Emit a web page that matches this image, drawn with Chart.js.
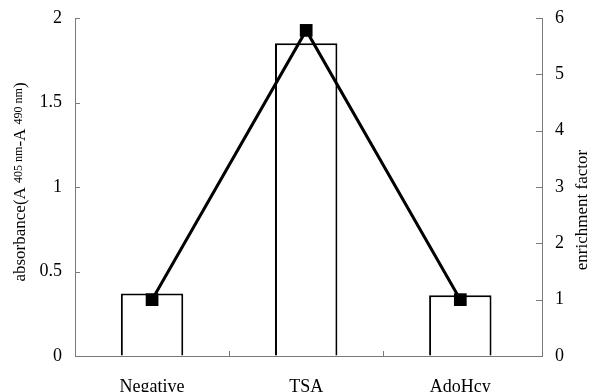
<!DOCTYPE html>
<html lang="en">
<head>
<meta charset="UTF-8">
<title>absorbance / enrichment</title>
<script src="https://cdn.jsdelivr.net/npm/chart.js"></script>
<style>
  html, body { margin: 0; padding: 0; background: #fff; }
  #wrap { width: 589px; height: 392px; }
</style>
</head>
<body>
<div id="wrap"><canvas id="chart" width="589" height="392"></canvas></div>
<script>
// data
const categories = ['Negative', 'TSA', 'AdoHcy'];
const absorbance = [0.37, 1.85, 0.36];
const enrichment = [1.0, 5.78, 1.0];
const leftTicks = [0, 0.5, 1, 1.5, 2];
const rightTicks = [0, 1, 2, 3, 4, 5, 6];

const serif = "'Liberation Serif', 'DejaVu Serif', serif";
const axisGray = '#7a7a7a';
const catIndex = categories.map((c, i) => i);

// titles with subscripts, inward tick marks
const extras = {
  id: 'extras',
  afterDraw(chart) {
    const ctx = chart.ctx;
    const area = chart.chartArea;
    const x = chart.scales.x, y = chart.scales.y, y1 = chart.scales.y1;

    ctx.save();
    ctx.strokeStyle = axisGray;
    ctx.lineWidth = 1;
    // category boundaries on the x axis
    for (let i = 0; i < categories.length - 1; i++) {
      const px = Math.round(x.getPixelForValue(i + 0.5)) + 0.5;
      ctx.beginPath();
      ctx.moveTo(px, area.bottom);
      ctx.lineTo(px, area.bottom - 5);
      ctx.stroke();
    }
    // left axis ticks point inward
    leftTicks.forEach(v => {
      const py = Math.round(y.getPixelForValue(v)) + 0.5;
      ctx.beginPath();
      ctx.moveTo(area.left, py);
      ctx.lineTo(area.left + 5, py);
      ctx.stroke();
    });
    // right axis ticks point inward
    rightTicks.forEach(v => {
      const py = Math.round(y1.getPixelForValue(v)) + 0.5;
      ctx.beginPath();
      ctx.moveTo(area.right, py);
      ctx.lineTo(area.right - 6, py);
      ctx.stroke();
    });
    ctx.restore();

    // left title: absorbance(A 405 nm-A 490 nm)
    const parts = [
      ['absorbance(A ', 17, 0],
      ['405 nm', 12, -3],
      ['-A ', 17, 0],
      ['490 nm', 12, -3],
      [')', 17, 0]
    ];
    ctx.save();
    ctx.fillStyle = '#000';
    let total = 0;
    parts.forEach(p => { ctx.font = p[1] + 'px ' + serif; total += ctx.measureText(p[0]).width; });
    ctx.translate(25, 182);
    ctx.rotate(-Math.PI / 2);
    ctx.textBaseline = 'alphabetic';
    let cx = -total / 2;
    parts.forEach(p => {
      ctx.font = p[1] + 'px ' + serif;
      ctx.fillText(p[0], cx, p[2]);
      cx += ctx.measureText(p[0]).width;
    });
    ctx.restore();

    // right title
    ctx.save();
    ctx.fillStyle = '#000';
    ctx.font = '17px ' + serif;
    ctx.translate(583, 210);
    ctx.rotate(-Math.PI / 2);
    ctx.textAlign = 'center';
    ctx.textBaseline = 'middle';
    ctx.fillText('enrichment factor', 0, 0);
    ctx.restore();
  }
};

const tickFont = { family: serif, size: 18 };

function fixV(w) {
  return s => { s.width = w; s.paddingTop = 0; s.paddingBottom = 0; };
}

new Chart(document.getElementById('chart'), {
  data: {
    datasets: [
      {
        type: 'line',
        label: 'enrichment factor',
        data: catIndex.map(i => ({ x: i, y: enrichment[i] })),
        yAxisID: 'y1',
        borderColor: '#000',
        backgroundColor: '#000',
        borderWidth: 3,
        tension: 0,
        pointStyle: 'rect',
        pointRadius: 9,
        pointBorderWidth: 0,
        order: 0
      },
      {
        type: 'bar',
        label: 'absorbance',
        data: catIndex.map(i => ({ x: i, y: absorbance[i] })),
        yAxisID: 'y',
        backgroundColor: '#fff',
        borderColor: '#000',
        borderWidth: 2,
        categoryPercentage: 0.405,
        barPercentage: 1.0,
        order: 1
      }
    ]
  },
  options: {
    responsive: false,
    animation: false,
    layout: { padding: { top: 18, left: 0, right: 0, bottom: 0 } },
    plugins: { legend: { display: false }, tooltip: { enabled: false } },
    scales: {
      x: {
        type: 'linear',
        offset: false,
        min: -0.5,
        max: 2.53,
        afterBuildTicks(s) { s.ticks = catIndex.map(v => ({ value: v })); },
        grid: { display: false, offset: false },
        border: { color: axisGray, width: 1 },
        ticks: { color: '#000', font: tickFont, padding: 12, callback: v => categories[v] },
        afterFit(s) { s.height = 36; s.paddingLeft = 0; s.paddingRight = 0; }
      },
      y: {
        position: 'left',
        min: 0, max: 2,
        afterBuildTicks(s) { s.ticks = leftTicks.map(v => ({ value: v })); },
        grid: { drawOnChartArea: false, drawTicks: false },
        border: { color: axisGray, width: 1 },
        ticks: { color: '#000', font: tickFont, padding: 13, callback: v => String(v) },
        afterFit: fixV(75)
      },
      y1: {
        position: 'right',
        min: 0, max: 6,
        afterBuildTicks(s) { s.ticks = rightTicks.map(v => ({ value: v })); },
        grid: { drawOnChartArea: false, drawTicks: false },
        border: { color: axisGray, width: 1 },
        ticks: { color: '#000', font: tickFont, padding: 13, callback: v => String(v) },
        afterFit: fixV(47)
      }
    }
  },
  plugins: [extras]
});
</script>
</body>
</html>
